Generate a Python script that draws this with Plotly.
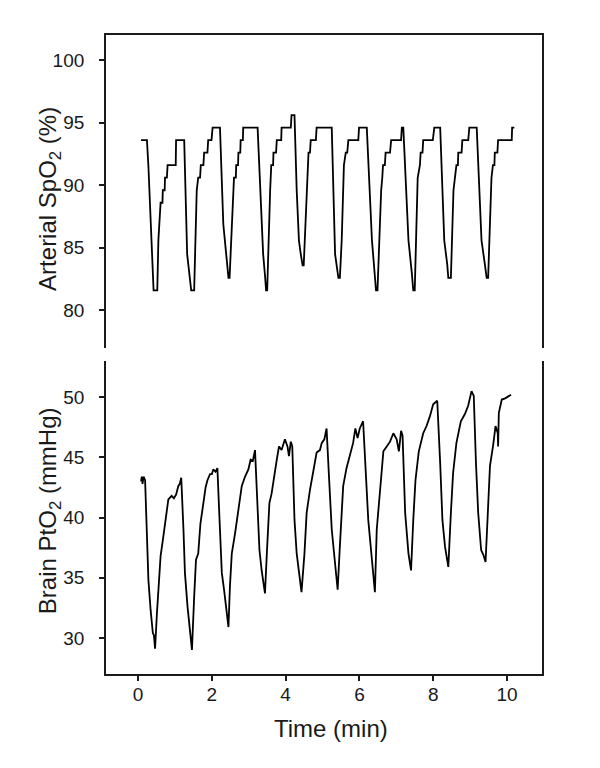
import plotly.graph_objects as go
from plotly.subplots import make_subplots

# arterial SpO2 (%) - stepped signal
spo2_t = [0.08, 0.24, 0.28, 0.37, 0.42, 0.52, 0.55, 0.61, 0.66, 0.67, 0.72, 0.73, 0.78, 0.80, 1.02, 1.03, 1.25,
          1.33, 1.37, 1.44, 1.52, 1.55, 1.59, 1.63, 1.68, 1.70, 1.77, 1.79, 1.88, 1.90, 1.99, 2.02, 2.22,
          2.31, 2.38, 2.45, 2.48, 2.52, 2.60, 2.65, 2.66, 2.71, 2.72, 2.77, 2.78, 2.84, 2.85, 3.24,
          3.39, 3.44, 3.47, 3.50, 3.53, 3.58, 3.61, 3.66, 3.67, 3.74, 3.76, 3.88, 3.89, 4.14, 4.16, 4.24,
          4.30, 4.36, 4.41, 4.46, 4.49, 4.54, 4.59, 4.62, 4.66, 4.68, 4.82, 4.84, 5.25,
          5.34, 5.43, 5.47, 5.52, 5.58, 5.63, 5.67, 5.70, 5.97, 5.99, 6.20,
          6.34, 6.45, 6.49, 6.53, 6.59, 6.62, 6.64, 6.69, 6.71, 6.83, 6.86, 7.13, 7.15, 7.19,
          7.33, 7.42, 7.46, 7.50, 7.55, 7.58, 7.64, 7.66, 7.71, 7.73, 7.99, 8.03, 8.19,
          8.30, 8.38, 8.41, 8.48, 8.55, 8.59, 8.63, 8.67, 8.68, 8.77, 8.79, 8.95, 8.98, 9.18,
          9.31, 9.40, 9.45, 9.49, 9.54, 9.58, 9.62, 9.66, 9.67, 9.74, 9.76, 10.13, 10.14, 10.20]
spo2 = [93.6, 93.6, 91.5, 84.5, 81.6, 81.6, 85.6, 88.6, 88.6, 89.6, 89.6, 90.6, 90.6, 91.6, 91.6, 93.6, 93.6,
        84.5, 83.5, 81.6, 81.6, 85.6, 89.6, 90.6, 90.6, 91.6, 91.6, 92.6, 92.6, 93.6, 93.6, 94.6, 94.6,
        86.9, 84.5, 82.6, 82.6, 85.6, 90.6, 90.6, 91.6, 91.6, 92.6, 92.6, 93.6, 93.6, 94.6, 94.6,
        84.5, 82.8, 81.6, 81.6, 85.6, 89.6, 91.6, 91.6, 92.6, 92.6, 93.6, 93.6, 94.6, 94.6, 95.6, 95.6,
        89.6, 85.6, 84.5, 83.6, 83.6, 87.7, 91.6, 92.6, 92.6, 93.6, 93.6, 94.6, 94.6,
        84.5, 82.6, 82.6, 85.6, 91.6, 92.6, 92.6, 93.6, 93.6, 94.6, 94.6,
        85.6, 81.6, 81.6, 85.6, 89.6, 90.6, 91.6, 91.6, 92.6, 92.6, 93.6, 93.6, 94.6, 94.6,
        85.6, 83.0, 81.6, 81.6, 87.7, 90.6, 91.6, 92.6, 92.6, 93.6, 93.6, 94.6, 94.6,
        85.6, 83.7, 82.6, 82.6, 89.6, 90.6, 91.6, 91.6, 92.6, 92.6, 93.6, 93.6, 94.6, 94.6,
        85.6, 83.7, 82.6, 82.6, 87.7, 90.6, 91.6, 91.6, 92.6, 92.6, 93.6, 93.6, 94.6, 94.6]

# brain PtO2 (mmHg)
pto2_t = [0.08, 0.10, 0.12, 0.15, 0.19, 0.24, 0.28, 0.34, 0.40, 0.43, 0.46, 0.51, 0.55, 0.61, 0.67, 0.73, 0.78,
          0.82, 0.91, 0.97, 1.03, 1.09, 1.13, 1.17, 1.23, 1.27, 1.34, 1.41, 1.46, 1.52, 1.57, 1.63, 1.69,
          1.77, 1.83, 1.88, 1.95, 2.00, 2.04, 2.10, 2.15, 2.20, 2.27, 2.33, 2.40, 2.45, 2.49, 2.54, 2.63,
          2.72, 2.81, 2.90, 2.95, 2.99, 3.05, 3.11, 3.17, 3.22, 3.29, 3.35, 3.44, 3.49, 3.56, 3.62, 3.69,
          3.76, 3.82, 3.89, 3.98, 4.05, 4.09, 4.14, 4.18, 4.24, 4.30, 4.36, 4.43, 4.51, 4.57, 4.66, 4.75,
          4.84, 4.93, 4.98, 5.05, 5.11, 5.17, 5.25, 5.32, 5.41, 5.47, 5.56, 5.65, 5.74, 5.83, 5.89, 5.95,
          6.01, 6.10, 6.16, 6.24, 6.33, 6.42, 6.47, 6.56, 6.65, 6.74, 6.83, 6.92, 7.01, 7.07, 7.13, 7.17,
          7.24, 7.33, 7.40, 7.46, 7.52, 7.61, 7.73, 7.82, 7.91, 8.00, 8.11, 8.19, 8.25, 8.32, 8.41, 8.48,
          8.54, 8.63, 8.75, 8.86, 8.95, 9.04, 9.10, 9.16, 9.22, 9.30, 9.36, 9.42, 9.48, 9.54, 9.63, 9.69,
          9.75, 9.76, 9.78, 9.86, 9.95, 10.04, 10.11]
pto2 = [43.0, 43.4, 42.8, 43.4, 43.1, 39.0, 34.8, 32.3, 30.4, 30.2, 29.1, 32.0, 34.3, 36.8, 38.1, 39.5, 40.5,
        41.5, 41.8, 41.6, 41.9, 42.6, 42.8, 43.3, 39.0, 35.4, 32.6, 30.6, 29.0, 33.4, 36.5, 37.0, 39.5,
        41.2, 42.5, 43.1, 43.6, 43.6, 44.0, 43.8, 44.1, 40.4, 35.4, 34.0, 32.0, 30.9, 34.3, 37.0, 38.7,
        40.6, 42.6, 43.4, 43.7, 44.0, 44.8, 44.7, 45.6, 41.8, 37.3, 35.6, 33.7, 37.0, 41.2, 42.0, 43.6,
        44.8, 45.9, 45.6, 46.5, 45.9, 45.1, 46.3, 45.9, 39.8, 37.0, 35.4, 33.8, 37.0, 40.4, 42.3, 43.7,
        45.4, 45.6, 46.2, 46.5, 47.4, 43.7, 39.0, 36.8, 34.0, 37.6, 42.6, 44.1, 45.1, 46.2, 47.4, 46.6,
        47.4, 48.0, 44.5, 39.8, 36.8, 33.8, 39.0, 42.6, 45.5, 45.9, 46.3, 47.0, 46.5, 45.5, 47.2, 46.8,
        40.4, 37.0, 35.6, 39.8, 43.1, 45.5, 47.0, 47.6, 48.4, 49.4, 49.7, 44.5, 39.8, 37.6, 35.9, 40.4,
        43.7, 46.2, 48.0, 48.6, 49.3, 50.5, 50.1, 44.5, 40.4, 37.3, 36.9, 36.3, 40.4, 44.3, 46.1, 47.6,
        47.0, 45.9, 48.7, 49.8, 49.9, 50.1, 50.2]

x_ticks = [0, 2, 4, 6, 8, 10]
spo2_ticks = [80, 85, 90, 95, 100]
pto2_ticks = [30, 35, 40, 45, 50]

FONT = "Liberation Sans, Arial, sans-serif"
INK = "#1a1a1a"
TICK_FONT = dict(family=FONT, size=19, color=INK)
LW = 1.8

fig = make_subplots(rows=2, cols=1, shared_xaxes=False, vertical_spacing=0.0204)

fig.add_trace(go.Scatter(x=spo2_t, y=spo2, mode="lines",
                         line=dict(color="black", width=LW)), row=1, col=1)
fig.add_trace(go.Scatter(x=pto2_t, y=pto2, mode="lines",
                         line=dict(color="black", width=LW)), row=2, col=1)

xr = [-0.87, 10.95]

# top panel: only the top border line, no ticks
fig.update_xaxes(range=xr, showline=True, side="top", ticks="", showticklabels=False,
                 showgrid=False, zeroline=False, linecolor=INK, linewidth=LW, row=1, col=1)
# bottom panel: time axis
fig.update_xaxes(range=xr, showline=True, ticks="outside", ticklen=5, tickwidth=LW, tickcolor=INK,
                 tickvals=x_ticks, ticklabelstandoff=-3, tickfont=TICK_FONT,
                 showgrid=False, zeroline=False, linecolor=INK, linewidth=LW, row=2, col=1)

fig.update_yaxes(range=[77, 102], showline=True, mirror=True, ticks="outside", ticklen=5,
                 tickwidth=LW, tickcolor=INK, tickvals=spo2_ticks, ticklabelstandoff=11,
                 tickfont=TICK_FONT, showgrid=False, zeroline=False, linecolor=INK, linewidth=LW,
                 row=1, col=1)
fig.update_yaxes(range=[27, 53], showline=True, mirror=True, ticks="outside", ticklen=5,
                 tickwidth=LW, tickcolor=INK, tickvals=pto2_ticks, ticklabelstandoff=11,
                 tickfont=TICK_FONT, showgrid=False, zeroline=False, linecolor=INK, linewidth=LW,
                 row=2, col=1)

# axis titles as annotations so both line up like the original
title_font = dict(family=FONT, size=24, color=INK)
fig.add_annotation(text="Arterial SpO<sub>2</sub> (%)", textangle=-90, xref="paper", yref="y",
                   x=-0.131, y=88.9, xanchor="center", yanchor="middle", showarrow=False,
                   font=title_font)
fig.add_annotation(text="Brain PtO<sub>2</sub> (mmHg)", textangle=-90, xref="paper", yref="y2",
                   x=-0.131, y=40.6, xanchor="center", yanchor="middle", showarrow=False,
                   font=title_font)
fig.add_annotation(text="Time (min)", xref="x2", yref="paper", x=5.24, y=-0.085,
                   xanchor="center", yanchor="middle", showarrow=False, font=title_font)

# the page body adds 8px, so the figure is 8px smaller and margins shifted
fig.update_layout(
    width=592, height=760,
    margin=dict(l=98, r=58, t=27, b=94),
    showlegend=False,
    font=dict(family=FONT, size=19, color=INK),
    plot_bgcolor="white",
    paper_bgcolor="white",
)

fig.write_html("out.html")
